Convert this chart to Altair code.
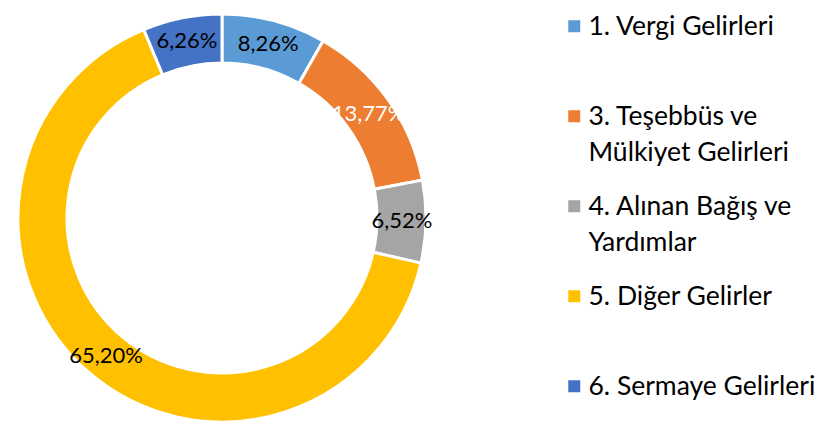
import altair as alt
import pandas as pd

categories = [
    "1. Vergi Gelirleri",
    "3. Teşebbüs ve Mülkiyet Gelirleri",
    "4. Alınan Bağış ve Yardımlar",
    "5. Diğer Gelirler",
    "6. Sermaye Gelirleri",
]
values = [8.26, 13.77, 6.52, 65.20, 6.26]
value_labels = ["8,26%", "13,77%", "6,52%", "65,20%", "6,26%"]
legend_lines = [
    ["1. Vergi Gelirleri", ""],
    ["3. Teşebbüs ve", "Mülkiyet Gelirleri"],
    ["4. Alınan Bağış ve", "Yardımlar"],
    ["5. Diğer Gelirler", ""],
    ["6. Sermaye Gelirleri", ""],
]
colors = ["#5B9BD5", "#ED7D31", "#A5A5A5", "#FFC000", "#4472C4"]
text_colors = ["black", "white", "black", "black", "black"]

df = pd.DataFrame({
    "cat": categories,
    "value": values,
    "label": value_labels,
    "order": list(range(len(categories))),
    "tcolor": text_colors,
})

def q(s):
    return "'" + s.replace("'", "\\'") + "'"

expr = "[datum.label, '']"
for cat, lines in zip(categories, legend_lines):
    arr = "[" + ", ".join(q(l) for l in lines) + "]"
    expr = f"datum.label == {q(cat)} ? {arr} : ({expr})"

base = alt.Chart(df).encode(
    theta=alt.Theta("value:Q", stack=True),
    order=alt.Order("order:Q"),
)

arc = base.mark_arc(innerRadius=155, outerRadius=204, stroke="white", strokeWidth=3).encode(
    color=alt.Color(
        "cat:N",
        scale=alt.Scale(domain=categories, range=colors),
        legend=alt.Legend(
            title=None,
            orient="none",
            legendX=553,
            legendY=0,
            symbolType="square",
            symbolSize=144,
            symbolStrokeWidth=0,
            labelFont="Lato",
            labelFontSize=26.5,
            labelColor="black",
            labelOffset=1,
            labelLimit=400,
            labelBaseline="top",
            rowPadding=26,
            padding=0,
            labelExpr=expr,
        ),
    )
)

text = base.mark_text(radius=180, font="Lato", fontSize=22).encode(
    text="label:N",
    color=alt.Color("tcolor:N", scale=None),
)

chart = (arc + text).properties(
    width=428, height=410, padding=0
).configure(
    style={"guide-label": {"lineHeight": 36, "dy": -12}}
).configure_view(strokeWidth=0)

chart.save("out.html", embed_options={"renderer": "svg", "actions": False})
